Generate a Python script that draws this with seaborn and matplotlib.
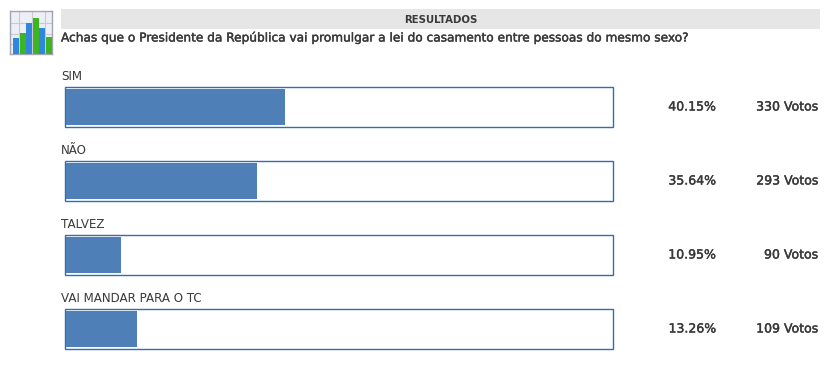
import matplotlib
matplotlib.use("Agg")
import matplotlib.pyplot as plt
import matplotlib.patheffects as pe
import seaborn as sns
import pandas as pd

W, H = 826, 366

title = "RESULTADOS"
question = "Achas que o Presidente da República vai promulgar a lei do casamento entre pessoas do mesmo sexo?"
options = ["SIM", "NÃO", "TALVEZ", "VAI MANDAR PARA O TC"]
pct_labels = ["40.15%", "35.64%", "10.95%", "13.26%"]
vote_labels = ["330 Votos", "293 Votos", "90 Votos", "109 Votos"]
# bar lengths as drawn in the picture, they run a bit short of the printed percent
fill_pct = [40.1, 35.0, 10.1, 13.0]
frame_pct = [100, 100, 100, 100]

# little chart icon at the top left
icon_x = ["a", "b", "c", "d", "e", "f"]
icon_h = [16, 21, 30, 35, 25, 17]
icon_colors = ["#2f86dc", "#3cb521", "#2f86dc", "#3cb521", "#2f86dc", "#3cb521"]

sns.set_theme(style="white")
plt.rcParams["font.family"] = ["DejaVu Sans"]
txt = "#3a3a3a"
blue = "#4e7fb7"
edge = "#2f6fb0"
semi = [pe.withStroke(linewidth=0.3, foreground=txt)]

df = pd.DataFrame({"option": options, "fill": fill_pct, "frame": frame_pct})

fig = plt.figure(figsize=(W / 100, H / 100), dpi=100)


def box(x0, y0, x1, y1):
    # pixel box to figure fractions
    return [x0 / W, 1 - y1 / H, (x1 - x0) / W, (y1 - y0) / H]


def rows_axes(x0, x1):
    a = fig.add_axes(box(x0, 70, x1, 366))
    a.patch.set_alpha(0)
    return a


# frames
ax_frame = rows_axes(64.5, 612.5)
sns.barplot(data=df, x="frame", y="option", order=options, orient="h", ax=ax_frame,
            color="white", width=0.53, saturation=1, linewidth=1)
for p in ax_frame.patches:
    p.set_edgecolor(edge)
# fills
ax_fill = rows_axes(66, 611)
sns.barplot(data=df, x="fill", y="option", order=options, orient="h", ax=ax_fill,
            color=blue, width=0.49, saturation=1, linewidth=0)
for a in (ax_frame, ax_fill):
    a.set_xlim(0, 100)
    a.set_ylim(3.5, -0.5)
    a.axis("off")
    for p in a.patches:
        p.set_clip_on(False)

# header band
ax_head = fig.add_axes(box(61, 9, 820, 29))
ax_head.set_facecolor("#e6e6e6")
ax_head.set_xticks([])
ax_head.set_yticks([])
sns.despine(ax=ax_head, left=True, bottom=True)
ax_head.text(0.5, 0.47, title, transform=ax_head.transAxes, ha="center", va="center",
             fontsize=7.3, fontweight="bold", color=txt)

fig.text(61 / W, 1 - 38 / H, question, fontsize=8.75, color=txt, ha="left", va="center",
         path_effects=semi)

# labels and values per row, placed off the row axis
for i in range(len(options)):
    ax_fill.annotate(options[i], xy=(61, i), xycoords=("figure pixels", "data"),
                     xytext=(0, 31), textcoords="offset pixels",
                     fontsize=8.6, color=txt, ha="left", va="center", annotation_clip=False)
    ax_fill.annotate(pct_labels[i], xy=(716, i), xycoords=("figure pixels", "data"),
                     fontsize=9, color=txt, ha="right", va="center",
                     annotation_clip=False, path_effects=semi)
    ax_fill.annotate(vote_labels[i], xy=(818, i), xycoords=("figure pixels", "data"),
                     fontsize=9, color=txt, ha="right", va="center",
                     annotation_clip=False, path_effects=semi)

# icon
ax_icon = fig.add_axes(box(10, 11, 52, 54))
sns.barplot(x=icon_x, y=icon_h, hue=icon_x, palette=icon_colors, legend=False, ax=ax_icon,
            width=0.95, saturation=1, linewidth=0, zorder=3)
ax_icon.set_xlim(-0.95, 5.5)
ax_icon.set_ylim(0, 42)
ax_icon.set_facecolor("#eeeef6")
ax_icon.set_yticks([10, 20, 30])
ax_icon.set_xticks([0.5, 2.5, 4.5])
ax_icon.tick_params(length=0, labelleft=False, labelbottom=False)
ax_icon.set_xlabel("")
ax_icon.set_ylabel("")
ax_icon.grid(True, color="#c9c9d6", linewidth=0.8, zorder=0)
for s in ax_icon.spines.values():
    s.set_color("#a4a4b2")
    s.set_linewidth(1)

fig.savefig("out.png", dpi=100)
